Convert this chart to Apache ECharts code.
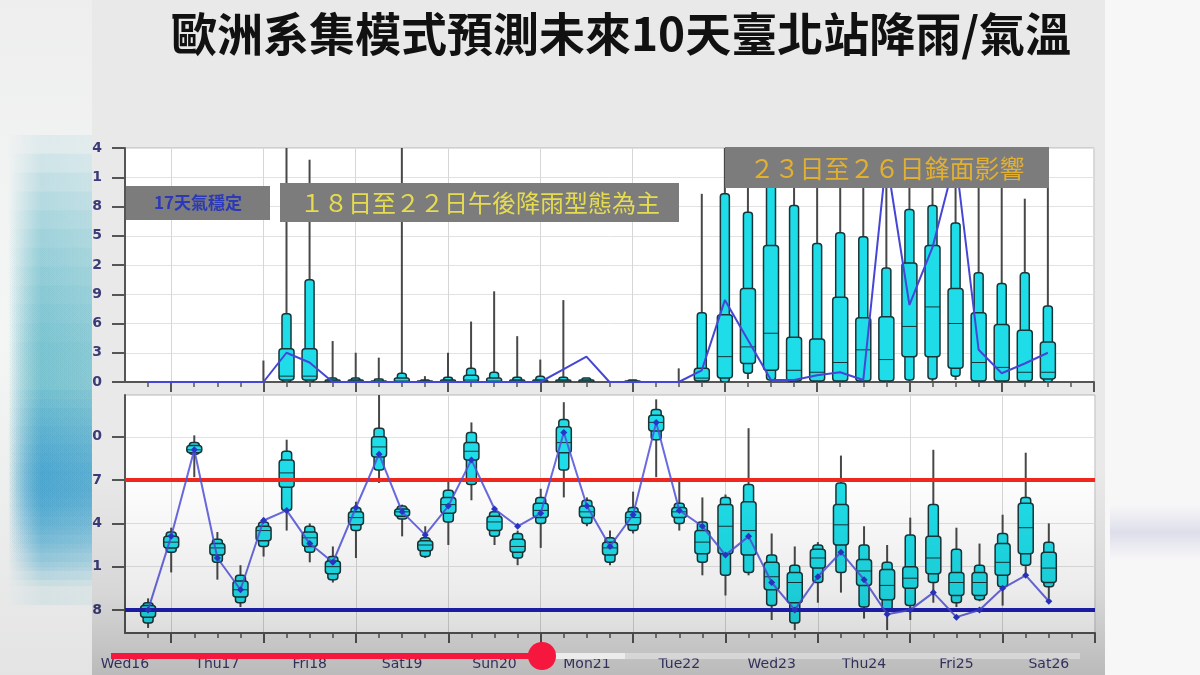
<!DOCTYPE html>
<html>
<head>
<meta charset="utf-8">
<script src="https://cdn.jsdelivr.net/npm/echarts@6/dist/echarts.min.js"></script>
<style>
  html, body { margin: 0; padding: 0; background: #f4f4f4; }
  #chart { width: 1200px; height: 675px; }
</style>
</head>
<body>
<div id="chart"></div>
<script>
// hours after Wed16 12Z, one ensemble box every 6 h
const hours = [6, 12, 18, 24, 30, 36, 42, 48, 54, 60, 66, 72, 78, 84, 90, 96, 102, 108, 114, 120,
  126, 132, 138, 144, 150, 156, 162, 168, 174, 180, 186, 192, 198, 204, 210, 216, 222, 228, 234, 240];
const minorTicks = hours.concat([246, 252]);
const dayTicks = [12, 36, 60, 84, 108, 132, 156, 180, 204, 228, 252];
const labelHours = [0, 24, 48, 72, 96, 120, 144, 168, 192, 216, 240];
const dayLabels = ['Wed16', 'Thu17', 'Fri18', 'Sat19', 'Sun20', 'Mon21', 'Tue22', 'Wed23', 'Thu24', 'Fri25', 'Sat26'];
const tempTicks = [18, 21, 24, 27, 30];

// precipitation (mm / 6h)
const rainMax = [0, 0, 0, 0, 0, 2.2, 30, 22.8, 4.2, 3.0, 2.5, 30, 0.6, 3.0, 6.2, 9.3, 4.7, 2.3, 8.4, 0.4,
  0, 0.2, 0, 1.4, 19.3, 30, 30, 30, 30, 30, 30, 30, 30, 30, 30, 30, 30, 30, 18.8, 30];
const rainP90 = [0, 0, 0, 0, 0, 0, 7.0, 10.5, 0.4, 0.4, 0.3, 0.9, 0.2, 0.5, 1.4, 1.0, 0.5, 0.6, 0.5, 0.4,
  0, 0.2, 0, 0, 7.1, 19.3, 17.4, 22, 18.1, 14.2, 15.3, 14.9, 11.7, 17.7, 18.1, 16.3, 11.2, 10.1, 11.2, 7.8];
const rainP75 = [0, 0, 0, 0, 0, 0, 3.4, 3.4, 0.2, 0.2, 0.1, 0.4, 0.1, 0.2, 0.7, 0.4, 0.2, 0.2, 0.2, 0.2,
  0, 0.1, 0, 0, 1.4, 6.9, 9.6, 14, 4.6, 4.4, 8.7, 6.6, 6.7, 12.2, 14.0, 9.6, 7.1, 5.9, 5.3, 4.1];
const rainMed = [0, 0, 0, 0, 0, 0, 0.6, 0.6, 0.1, 0.1, 0, 0.1, 0, 0.1, 0.2, 0.1, 0.1, 0.1, 0.1, 0.1,
  0, 0, 0, 0, 0.4, 2.6, 3.6, 5.0, 1.2, 1.0, 2.0, 3.3, 2.3, 5.7, 7.7, 6.0, 2.0, 1.5, 1.0, 1.0];
const rainP25 = [0, 0, 0, 0, 0, 0, 0.2, 0.2, 0, 0, 0, 0, 0, 0, 0, 0, 0, 0, 0, 0,
  0, 0, 0, 0, 0.1, 0.4, 1.9, 1.2, 0.1, 0.1, 0.1, 0.1, 0.1, 2.6, 2.6, 1.4, 0.1, 0.1, 0.1, 0.3];
const rainP10 = [0, 0, 0, 0, 0, 0, 0, 0, 0, 0, 0, 0, 0, 0, 0, 0, 0, 0, 0, 0,
  0, 0, 0, 0, 0, 0, 0.9, 0.2, 0, 0, 0, 0, 0, 0.2, 0.3, 0.6, 0, 0, 0, 0];
const rainMin = [0, 0, 0, 0, 0, 0, 0, 0, 0, 0, 0, 0, 0, 0, 0, 0, 0, 0, 0, 0,
  0, 0, 0, 0, 0, 0, 0.3, 0, 0, 0, 0, 0, 0, 0, 0, 0.2, 0, 0, 0, 0];
const rainHres = [0, 0, 0, 0, 0, 0, 3.0, 2.0, 0, 0, 0, 0, 0, 0, 0, 0, 0, 0, 1.3, 2.6,
  0, 0, 0, 0, 1.2, 8.4, 4.3, 0.2, 0.2, 0.7, 1.0, 0.2, 23, 7.9, 13.8, 23, 3.3, 0.9, 1.9, 3.0];

// 2 m temperature (°C)
const tempMax = [18.8, 23.7, 30.1, 23.4, 21.1, 24.4, 29.8, 24.0, 22.4, 25.5, 33.0, 25.3, 23.8, 27.0, 31.0, 25.1, 23.5, 26.4, 32.4, 25.8,
  23.5, 26.2, 32.6, 26.9, 25.8, 26.0, 30.6, 23.3, 22.4, 22.7, 28.7, 23.8, 22.5, 24.4, 29.1, 23.7, 22.6, 24.6, 28.9, 24.0];
const tempP90 = [18.5, 23.4, 29.6, 22.9, 20.4, 24.1, 29.0, 23.8, 21.7, 25.1, 30.6, 25.2, 23.0, 26.3, 30.3, 24.8, 23.3, 25.8, 31.2, 25.6,
  23.0, 25.1, 31.9, 25.4, 24.1, 25.8, 26.7, 21.8, 21.1, 22.5, 26.8, 22.5, 21.3, 23.2, 25.3, 22.2, 21.1, 23.3, 25.8, 22.7];
const tempP75 = [18.3, 23.1, 29.4, 22.6, 20.0, 23.8, 28.4, 23.4, 21.4, 24.8, 30.0, 25.0, 22.8, 25.8, 29.6, 24.5, 22.9, 25.4, 30.7, 25.2,
  22.7, 24.8, 31.5, 25.1, 23.5, 25.3, 25.5, 21.3, 20.6, 22.2, 25.3, 21.5, 20.8, 21.0, 23.1, 20.6, 20.6, 22.6, 25.4, 22.0];
const tempMed = [18.0, 22.7, 29.1, 22.3, 19.4, 23.5, 27.5, 23.0, 21.0, 24.4, 29.3, 24.8, 22.5, 25.3, 29.0, 24.1, 22.4, 24.9, 29.6, 24.8,
  22.3, 24.4, 31.0, 24.8, 22.7, 23.8, 23.5, 20.3, 19.9, 21.6, 23.9, 20.7, 19.7, 20.2, 21.6, 19.9, 19.9, 21.3, 23.7, 20.9];
const tempP25 = [17.5, 22.3, 28.9, 21.8, 18.9, 22.8, 26.5, 22.4, 20.5, 23.9, 28.6, 24.5, 22.1, 24.7, 28.4, 23.5, 22.0, 24.4, 28.9, 24.4,
  21.8, 23.9, 30.4, 24.4, 21.9, 21.9, 21.8, 19.4, 18.5, 20.9, 22.5, 19.7, 18.7, 19.5, 20.5, 19.0, 19.0, 20.4, 21.9, 19.9];
const tempP10 = [17.1, 22.0, 28.8, 21.3, 18.5, 22.4, 24.9, 22.0, 20.1, 23.5, 27.7, 24.3, 21.7, 24.1, 26.7, 23.1, 21.6, 24.0, 27.7, 24.0,
  21.3, 23.5, 29.8, 24.0, 21.3, 20.4, 20.6, 18.3, 17.1, 19.9, 20.6, 18.2, 18.0, 18.3, 19.9, 18.5, 18.7, 19.6, 21.1, 19.6];
const tempMin = [16.75, 20.6, 27.2, 20.1, 18.2, 21.7, 23.5, 21.3, 19.9, 21.6, 26.8, 23.1, 21.6, 22.5, 25.6, 22.5, 21.1, 22.3, 25.8, 23.8,
  21.1, 23.3, 27.2, 23.5, 20.4, 19.0, 20.4, 17.3, 16.6, 18.5, 19.2, 17.4, 16.6, 17.3, 18.5, 18.2, 18.6, 18.3, 20.4, 18.8];
const tempHres = [18.0, 23.1, 29.1, 21.6, 19.4, 24.2, 24.9, 22.6, 21.3, 25.1, 28.8, 24.8, 23.2, 25.2, 28.4, 25.0, 23.8, 24.7, 30.3, 25.2,
  22.4, 24.6, 31.0, 24.9, 23.8, 21.8, 23.1, 19.9, 18.0, 20.3, 22.0, 20.1, 17.7, 18.0, 19.2, 17.5, 18.0, 19.5, 20.4, 18.6];

const CYAN = '#1edde8';
const EDGE = '#1a3538';
const AXIS = '#555555';
const NAVY = '#3b3b78';

const rainRows = hours.map((h, i) => [h, rainMin[i], rainP10[i], rainP25[i], rainMed[i], rainP75[i], rainP90[i], rainMax[i]]);
const tempRows = hours.map((h, i) => [h, tempMin[i], tempP10[i], tempP25[i], tempMed[i], tempP75[i], tempP90[i], tempMax[i]]);

function makeBox(thinW, wideW) {
  return function (params, api) {
    const h = api.value(0);
    const mn = api.value(1), p10 = api.value(2), p25 = api.value(3), med = api.value(4);
    const p75 = api.value(5), p90 = api.value(6), mx = api.value(7);
    const children = [];
    if (mx <= 0 && p90 <= 0) return { type: 'group', children };
    const X = api.coord([h, mn])[0];
    const Y = v => api.coord([h, v])[1];
    if (mx > mn) {
      children.push({ type: 'line', shape: { x1: X, y1: Y(mn), x2: X, y2: Y(mx) },
        style: { stroke: '#484848', lineWidth: 2 } });
    }
    if (p90 > p10) {
      children.push({ type: 'rect', shape: { x: X - thinW / 2, y: Y(p90), width: thinW, height: Y(p10) - Y(p90), r: 3 },
        style: { fill: CYAN, stroke: EDGE, lineWidth: 1.5 } });
    }
    if (p75 > p25) {
      children.push({ type: 'rect', shape: { x: X - wideW / 2, y: Y(p75), width: wideW, height: Y(p25) - Y(p75), r: 3 },
        style: { fill: CYAN, stroke: EDGE, lineWidth: 1.5 } });
      children.push({ type: 'line', shape: { x1: X - wideW / 2, y1: Y(med), x2: X + wideW / 2, y2: Y(med) },
        style: { stroke: EDGE, lineWidth: 1 } });
    }
    return { type: 'group', children };
  };
}

function baseX(gridIndex) {
  return {
    type: 'value', gridIndex, min: 0, max: 252, position: 'bottom',
    axisLine: { show: true, onZero: false, lineStyle: { color: AXIS, width: 2 } },
    axisTick: { show: true, customValues: minorTicks, length: 5, lineStyle: { color: AXIS, width: 1.5 } },
    axisLabel: { show: false },
    splitLine: { show: false }
  };
}
function dayX(gridIndex) {
  return {
    type: 'value', gridIndex, min: 0, max: 252, position: 'bottom',
    axisLine: { show: false, onZero: false },
    axisTick: { show: true, customValues: dayTicks, length: 10, lineStyle: { color: AXIS, width: 2 } },
    axisLabel: { show: false },
    splitLine: { show: true, lineStyle: { color: '#d6d6d6', width: 1 } }
  };
}

const xLabelAxis = baseX(1);
xLabelAxis.axisLabel = {
  show: true, customValues: labelHours, margin: 24,
  fontSize: 14, fontFamily: 'DejaVu Sans',
  color: v => (v === 96 ? '#c96a5c' : '#3b3b70'),
  formatter: v => dayLabels[labelHours.indexOf(v)]
};

// soft blurred strip outside the slide, built from stacked translucent bands
function haze(top, bottom, steps, rgb, alpha, z) {
  const out = [];
  const step = (bottom - top) / (2 * steps + 1);
  for (let k = 0; k < steps; k++) {
    out.push({ type: 'rect', z: z, silent: true,
      shape: { x: 8, y: top + k * step, width: 84, height: (bottom - top) - 2 * k * step },
      style: { fill: new echarts.graphic.LinearGradient(0, 0, 1, 0, [
        { offset: 0, color: 'rgba(' + rgb + ',0)' }, { offset: 0.4, color: 'rgba(' + rgb + ',' + alpha + ')' },
        { offset: 1, color: 'rgba(' + rgb + ',' + alpha * 0.8 + ')' }]) } });
  }
  return out;
}

const chart = echarts.init(document.getElementById('chart'));

chart.setOption({
  animation: false,
  backgroundColor: '#e9e9e9',
  grid: [
    { left: 125, top: 148, width: 969, height: 234, show: true, backgroundColor: '#ffffff', borderColor: '#b5b5b5', borderWidth: 1 },
    { left: 125, top: 395, width: 970, height: 238, show: true, backgroundColor: '#ffffff', borderColor: '#b5b5b5', borderWidth: 1 }
  ],
  xAxis: [baseX(0), dayX(0), xLabelAxis, dayX(1)],
  yAxis: [
    {
      type: 'value', gridIndex: 0, min: 0, max: 24, interval: 3,
      axisLine: { show: true, lineStyle: { color: AXIS, width: 2 } },
      axisTick: { show: true, length: 13, lineStyle: { color: AXIS, width: 2 } },
      axisLabel: { color: NAVY, fontWeight: 'bold', fontSize: 14, fontFamily: 'DejaVu Sans', margin: 23 },
      splitLine: { show: true, lineStyle: { color: '#e2e2e2' } }
    },
    {
      type: 'value', gridIndex: 1, min: 16.4, max: 32.9,
      axisLine: { show: true, lineStyle: { color: AXIS, width: 2 } },
      axisTick: { show: true, customValues: tempTicks, length: 13, lineStyle: { color: AXIS, width: 2 } },
      axisLabel: { customValues: tempTicks, color: NAVY, fontWeight: 'bold', fontSize: 14, fontFamily: 'DejaVu Sans', margin: 23 },
      splitLine: { show: true, lineStyle: { color: '#e2e2e2' } }
    }
  ],
  series: [
    {
      name: 'rainBox', type: 'custom', xAxisIndex: 0, yAxisIndex: 0, clip: true, z: 3,
      renderItem: makeBox(9, 15), encode: { x: 0, y: [1, 2, 3, 4, 5, 6, 7] }, data: rainRows
    },
    {
      name: 'rainHres', type: 'line', xAxisIndex: 0, yAxisIndex: 0, z: 4, symbol: 'none', clip: true,
      lineStyle: { color: '#4646d6', width: 2 },
      data: hours.map((h, i) => [h, rainHres[i]])
    },
    {
      name: 'tempBox', type: 'custom', xAxisIndex: 2, yAxisIndex: 1, clip: true, z: 3,
      renderItem: makeBox(10, 15), encode: { x: 0, y: [1, 2, 3, 4, 5, 6, 7] }, data: tempRows
    },
    {
      name: 'tempHres', type: 'line', xAxisIndex: 2, yAxisIndex: 1, z: 5,
      symbol: 'diamond', symbolSize: 7, itemStyle: { color: '#2a35c8' },
      lineStyle: { color: 'rgba(80,80,220,0.85)', width: 2 },
      data: hours.map((h, i) => [h, tempHres[i]]),
      markLine: {
        silent: true, symbol: 'none', label: { show: false },
        data: [
          { yAxis: 27, lineStyle: { color: '#f0281e', width: 4, type: 'solid' } },
          { yAxis: 18, lineStyle: { color: '#1f1fb4', width: 4, type: 'solid' } }
        ]
      }
    }
  ],
  graphic: [
    // title
    { type: 'text', z: 100, x: 621, y: 34,
      style: { text: '歐洲系集模式預測未來10天臺北站降雨/氣溫', font: 'bold 46px "Noto Sans CJK TC"', fill: '#111111',
        align: 'center', verticalAlign: 'middle', textAlign: 'center', textVerticalAlign: 'middle' } },
    // annotation boxes
    { type: 'rect', z: 100, shape: { x: 126, y: 186, width: 144, height: 34 }, style: { fill: '#7c7c7c' } },
    { type: 'text', z: 101, x: 198, y: 203,
      style: { text: '17天氣穩定', font: 'bold 17px "Noto Sans CJK TC"', fill: '#2b39b8',
        align: 'center', verticalAlign: 'middle', textAlign: 'center', textVerticalAlign: 'middle' } },
    { type: 'rect', z: 100, shape: { x: 280, y: 183, width: 399, height: 39 }, style: { fill: '#7c7c7c' } },
    { type: 'text', z: 101, x: 480, y: 203,
      style: { text: '１８日至２２日午後降雨型態為主', font: '24px "Noto Sans CJK TC"', fill: '#e6dc50',
        align: 'center', verticalAlign: 'middle', textAlign: 'center', textVerticalAlign: 'middle' } },
    { type: 'rect', z: 100, shape: { x: 725, y: 147, width: 324, height: 41 }, style: { fill: '#7c7c7c' } },
    { type: 'text', z: 101, x: 887, y: 168,
      style: { text: '２３日至２６日鋒面影響', font: '25px "Noto Sans CJK TC"', fill: '#e1b033',
        align: 'center', verticalAlign: 'middle', textAlign: 'center', textVerticalAlign: 'middle' } },
    // darkening towards the bottom of the video frame
    { type: 'rect', z: 50, silent: true, shape: { x: 92, y: 470, width: 1013, height: 205 },
      style: { fill: new echarts.graphic.LinearGradient(0, 0, 0, 1, [
        { offset: 0, color: 'rgba(0,0,0,0)' }, { offset: 0.6, color: 'rgba(0,0,0,0.08)' }, { offset: 1, color: 'rgba(0,0,0,0.2)' }]) } },
    // video progress bar
    { type: 'line', z: 60, shape: { x1: 625, y1: 656, x2: 1080, y2: 656 }, style: { stroke: 'rgba(255,255,255,0.35)', lineWidth: 6 } },
    { type: 'line', z: 60, shape: { x1: 542, y1: 656, x2: 625, y2: 656 }, style: { stroke: '#ececec', lineWidth: 6 } },
    { type: 'line', z: 61, shape: { x1: 111, y1: 656, x2: 542, y2: 656 }, style: { stroke: '#f5173d', lineWidth: 6 } },
    { type: 'circle', z: 62, shape: { cx: 542, cy: 656, r: 14 }, style: { fill: '#f5173d' } },
    // outside of the slide: left blurred strip
    { type: 'rect', z: 200, shape: { x: 0, y: 0, width: 92, height: 675 },
      style: { fill: new echarts.graphic.LinearGradient(0, 0, 0, 1, [
        { offset: 0, color: '#eeeeee' }, { offset: 0.5, color: '#f4f6f6' }, { offset: 1, color: '#e4e4e4' }]) } }
  ].concat(haze(135, 605, 12, '90,182,198', 0.12, 201))
   .concat(haze(390, 580, 10, '45,150,205', 0.11, 202))
   .concat([
    // right margin
    { type: 'rect', z: 200, shape: { x: 1105, y: 0, width: 95, height: 675 }, style: { fill: '#f7f7f8' } },
    { type: 'rect', z: 201, shape: { x: 1110, y: 505, width: 90, height: 55 },
      style: { fill: new echarts.graphic.LinearGradient(0, 0, 0, 1, [
        { offset: 0, color: 'rgba(165,165,205,0)' }, { offset: 0.5, color: 'rgba(165,165,205,0.3)' },
        { offset: 1, color: 'rgba(165,165,205,0)' }]) } }
  ])
});
</script>
</body>
</html>
